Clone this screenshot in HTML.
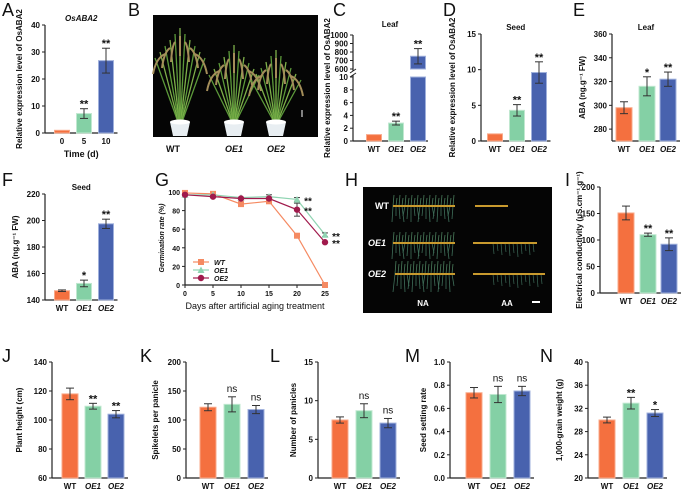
<!DOCTYPE html>
<html><head><meta charset="utf-8"><style>
html,body{margin:0;padding:0;background:#fff}
svg{display:block;font-family:"Liberation Sans",Arial,sans-serif}
</style></head><body>
<svg id="fig" width="685" height="494" viewBox="0 0 685 494" xmlns="http://www.w3.org/2000/svg">
<g id="photoB"></g>
<g id="photoH"></g>
</svg>
<script>
// ---- data arrays ----
const groups = ["WT","OE1","OE2"];
const timeCats = ["0","5","10"];
const aVals = [1, 7.2, 26.8];      const aErr = [0, 1.8, 4.6];    const aSig = ["","**","**"];
const cVals = [1, 2.8, 750];       const cErr = [0, 0.3, 90];     const cSig = ["","**","**"];
const dVals = [1, 4.3, 9.6];       const dErr = [0, 0.8, 1.5];    const dSig = ["","**","**"];
const eVals = [298, 316, 322];     const eErr = [5, 8, 6];        const eSig = ["","*","**"];
const fVals = [147, 152.5, 197.5]; const fErr = [0.6, 2.5, 3.5];  const fSig = ["","*","**"];
const iVals = [151, 110, 92];      const iErr = [13, 3, 12];      const iSig = ["","**","**"];
const jVals = [118, 109.5, 104];   const jErr = [4, 2, 2.5];      const jSig = ["","**","**"];
const kVals = [122, 127, 118];     const kErr = [6, 13, 7];       const kSig = ["","ns","ns"];
const lVals = [7.5, 8.7, 7.1];     const lErr = [0.4, 0.9, 0.6];  const lSig = ["","ns","ns"];
const mVals = [0.735, 0.72, 0.75]; const mErr = [0.045, 0.07, 0.04]; const mSig = ["","ns","ns"];
const nVals = [30, 32.9, 31.2];    const nErr = [0.5, 1.0, 0.6];  const nSig = ["","**","*"];
const gDays = [0,5,10,15,20,25];
const gWT  = [99,98,87,90,53,0];
const gOE1 = [97,97,94,95,92,54];
const gOE2 = [97,95,93,93,81,46];
const gErrWT = [1,1,2,2,1,0];
const gErrOE1 = [1,1,1,2,2,2];
const gErrOE2 = [1,1,1,1,7,1];
const gSigDays = [20,25];
const aTicks=[0,10,20,30,40], dTicks=[0,5,10,15], eTicks=[280,300,320,340,360], fTicks=[140,160,180,200,220];
const iTicks=[0,50,100,150,200], jTicks=[60,80,100,120,140], kTicks=[0,50,100,150,200], lTicks=[0,5,10,15];
const mTicks=[0,0.2,0.4,0.6,0.8,1.0], nTicks=[20,24,28,32,36,40], gYTicks=[0,20,40,60,80,100];
const cLowTicks=[0,2,4,6,8,10], cHighTicks=[600,700,800,900,1000];

const NS="http://www.w3.org/2000/svg";
const svg=document.getElementById('fig');
const COL=["#f4703f","#84d0a5","#4862ae"], EDGE=["#f9a98a","#c0e8d0","#9fb0dc"];
function el(tag,attrs,parent,txt){const e=document.createElementNS(NS,tag);for(const k in attrs)e.setAttribute(k,attrs[k]);if(txt!==undefined)e.textContent=txt;(parent||svg).appendChild(e);return e;}
function txt(x,y,s,size,opts,parent){opts=opts||{};const a={x:x,y:y,'font-size':size,'text-anchor':opts.anchor||'middle',fill:'#111','font-weight':opts.bold===false?'normal':'bold'};if(opts.italic)a['font-style']='italic';if(opts.rot)a.transform='rotate(-90 '+x+' '+y+')';const t=el('text',a,parent,s);return t;}

function panelLetter(L,x,y){const t=txt(x,y,L,18,{anchor:'start',bold:false});

}

function barChart(cfg){
  const g=el('g',{});
  
  
  const ys=v=>cfg.y0+(v-cfg.min)/(cfg.max-cfg.min)*(cfg.y1-cfg.y0);
  const right=cfg.xs[cfg.xs.length-1]+cfg.bw/2+4;
  el('line',{x1:cfg.ax,y1:cfg.y1,x2:cfg.ax,y2:cfg.y0,stroke:'#222','stroke-width':1.2},g);
  el('line',{x1:cfg.ax,y1:cfg.y0,x2:right,y2:cfg.y0,stroke:'#222','stroke-width':1.2},g);
  cfg.ticks.forEach(t=>{const y=ys(t);el('line',{x1:cfg.ax-3,y1:y,x2:cfg.ax,y2:y,stroke:'#222'},g);
    txt(cfg.ax-5,y+3,cfg.fmt?cfg.fmt(t):String(t),8,{anchor:'end'},g);});
  cfg.vals.forEach((v,i)=>{const x=cfg.xs[i],yv=ys(v);
    const r=el('rect',{x:x-cfg.bw/2,y:yv,width:cfg.bw,height:cfg.y0-yv,fill:COL[i],stroke:EDGE[i],'stroke-width':1},g);
    
    
    const e=cfg.err[i];
    if(e>0){const yt=ys(v+e),yb=ys(v-e);
      el('line',{x1:x,y1:yt,x2:x,y2:yb,stroke:'#333'},g);
      el('line',{x1:x-4,y1:yt,x2:x+4,y2:yt,stroke:'#333'},g);
      el('line',{x1:x-4,y1:yb,x2:x+4,y2:yb,stroke:'#333'},g);}
    if(cfg.sig[i]){const s=cfg.sig[i];txt(x,ys(v+e)-4+(s==='ns'?-1:3),s,s==='ns'?10:11,{bold:s!=='ns'},g);}
    txt(x,cfg.y0+11,cfg.cats[i],8,{italic:cfg.italic&&i>0},g);
  });
  if(cfg.title)txt((cfg.ax+right)/2,cfg.y1-4,cfg.title,8,{italic:cfg.titleItalic},g);
  if(cfg.ytitle){const cy=(cfg.y0+cfg.y1)/2;txt(cfg.yx,cy,cfg.ytitle,8,{rot:true},g);}
  if(cfg.xtitle)txt((cfg.ax+right)/2,cfg.y0+24,cfg.xtitle,9,{},g);
}

// A
panelLetter('A',2,16);
barChart({name:'chart-a-time-expression',ax:45,y0:133,y1:25,min:0,max:40,ticks:aTicks,xs:[62,84,106],bw:15,vals:aVals,err:aErr,sig:aSig,cats:timeCats,title:'OsABA2',titleItalic:true,ytitle:'Relative expression level of OsABA2',yx:22,xtitle:'Time (d)'});
// D
panelLetter('D',443,16);
barChart({name:'chart-d-seed-expression',ax:481,y0:141,y1:34,min:0,max:15,ticks:dTicks,xs:[495,517,539],bw:15,vals:dVals,err:dErr,sig:dSig,cats:groups,italic:true,title:'Seed',ytitle:'Relative expression level of OsABA2',yx:455});
// E
panelLetter('E',573,16);
barChart({name:'chart-e-leaf-aba',ax:612,y0:141,y1:34,min:270,max:360,ticks:eTicks,xs:[624,647,668],bw:16,vals:eVals,err:eErr,sig:eSig,cats:groups,italic:true,title:'Leaf',ytitle:'ABA (ng.g⁻¹ FW)',yx:585});
// F
panelLetter('F',2,186);
barChart({name:'chart-f-seed-aba',ax:45,y0:300,y1:194,min:140,max:220,ticks:fTicks,xs:[62,84,106],bw:15,vals:fVals,err:fErr,sig:fSig,cats:groups,italic:true,title:'Seed',ytitle:'ABA (ng.g⁻¹ FW)',yx:18});
// I
panelLetter('I',565,186);
barChart({name:'chart-i-conductivity',ax:600,y0:293,y1:187,min:0,max:200,ticks:iTicks,xs:[626,648,669],bw:16,vals:iVals,err:iErr,sig:iSig,cats:groups,italic:true,ytitle:'Electrical conductivity (μS.cm⁻¹.g⁻¹)',yx:582});
// bottom row
panelLetter('J',2,362); panelLetter('K',140,362); panelLetter('L',270,362); panelLetter('M',405,362); panelLetter('N',540,362);
barChart({name:'chart-j-plant-height',ax:52,y0:478,y1:362,min:60,max:140,ticks:jTicks,xs:[70,93,116],bw:16,vals:jVals,err:jErr,sig:jSig,cats:groups,italic:true,ytitle:'Plant height (cm)',yx:22});
barChart({name:'chart-k-spikelets',ax:186,y0:478,y1:362,min:0,max:200,ticks:kTicks,xs:[208,232,256],bw:16,vals:kVals,err:kErr,sig:kSig,cats:groups,italic:true,ytitle:'Spikelets per panicle',yx:158});
barChart({name:'chart-l-panicles',ax:318,y0:478,y1:362,min:0,max:15,ticks:lTicks,xs:[340,364,388],bw:16,vals:lVals,err:lErr,sig:lSig,cats:groups,italic:true,ytitle:'Number of panicles',yx:296});
barChart({name:'chart-m-seed-setting',ax:450,y0:478,y1:362,min:0,max:1,ticks:mTicks,xs:[474,498,522],bw:16,vals:mVals,err:mErr,sig:mSig,cats:groups,italic:true,fmt:t=>t.toFixed(1),ytitle:'Seed setting rate',yx:426});
barChart({name:'chart-n-grain-weight',ax:588,y0:478,y1:362,min:20,max:40,ticks:nTicks,xs:[607,631,655],bw:16,vals:nVals,err:nErr,sig:nSig,cats:groups,italic:true,ytitle:'1,000-grain weight (g)',yx:562});

// C broken axis
panelLetter('C',333,16);
(function(){
  const g=el('g',{});
  
  
  const ax=353,xs=[374,396,418],bw=15;
  const yl=v=>141-(v/10)*64, yh=v=>69-(v-600)/400*34;
  const yv=v=>v<=10?yl(v):yh(v);
  el('line',{x1:ax,y1:35,x2:ax,y2:71,stroke:'#222','stroke-width':1.2},g);
  el('line',{x1:ax,y1:75,x2:ax,y2:141,stroke:'#222','stroke-width':1.2},g);
  el('line',{x1:ax-3,y1:73,x2:ax+3,y2:69,stroke:'#222'},g);
  el('line',{x1:ax-3,y1:77,x2:ax+3,y2:73,stroke:'#222'},g);
  el('line',{x1:ax,y1:141,x2:428,y2:141,stroke:'#222','stroke-width':1.2},g);
  cLowTicks.forEach(t=>{el('line',{x1:ax-3,y1:yl(t),x2:ax,y2:yl(t),stroke:'#222'},g);txt(ax-5,yl(t)+3,String(t),8,{anchor:'end'},g);});
  cHighTicks.forEach(t=>{el('line',{x1:ax-3,y1:yh(t),x2:ax,y2:yh(t),stroke:'#222'},g);txt(ax-5,yh(t)+3,String(t),8,{anchor:'end'},g);});
  cVals.forEach((v,i)=>{const x=xs[i];
    if(v<=10){const r=el('rect',{x:x-bw/2,y:yl(v),width:bw,height:141-yl(v),fill:COL[i],stroke:EDGE[i]},g);
      
      }
    else{const r=el('rect',{x:x-bw/2,y:yl(10),width:bw,height:141-yl(10),fill:COL[i],stroke:EDGE[i]},g);
      
      
      const r2=el('rect',{x:x-bw/2,y:yh(v),width:bw,height:yh(600)-yh(v),fill:COL[i],stroke:EDGE[i]},g);
      
      }
    const e=cErr[i];
    if(e>0){const yt=yv(v+e),yb=yv(v-e);
      el('line',{x1:x,y1:yt,x2:x,y2:yb,stroke:'#333'},g);
      el('line',{x1:x-4,y1:yt,x2:x+4,y2:yt,stroke:'#333'},g);
      el('line',{x1:x-4,y1:yb,x2:x+4,y2:yb,stroke:'#333'},g);}
    if(cSig[i])txt(x,yv(v+e)-1,cSig[i],11,{},g);
    txt(x,152,groups[i],8,{italic:i>0},g);
  });
  txt(390,27,'Leaf',8,{},g);
  txt(330,88,'Relative expression level of OsABA2',8,{rot:true},g);
})();

// G line chart
panelLetter('G',155,186);
(function(){
  const g=el('g',{});
  
  
  const ax=185,y0=285,xs=d=>ax+d*5.6,ys=v=>y0-v*0.93;
  el('line',{x1:ax,y1:y0,x2:ax,y2:ys(100)-2,stroke:'#222','stroke-width':1.2},g);
  el('line',{x1:ax,y1:y0,x2:xs(25)+2,y2:y0,stroke:'#222','stroke-width':1.2},g);
  gYTicks.forEach(t=>{el('line',{x1:ax-3,y1:ys(t),x2:ax,y2:ys(t),stroke:'#222'},g);txt(ax-5,ys(t)+3,String(t),7,{anchor:'end'},g);});
  gDays.forEach(d=>{el('line',{x1:xs(d),y1:y0,x2:xs(d),y2:y0+3,stroke:'#222'},g);txt(xs(d),y0+11,String(d),7,{},g);});
  txt(255,309,'Days after artificial aging treatment',9,{bold:false},g);
  txt(164,238,'Germination rate (%)',7,{rot:true,italic:true},g);
  const series=[{n:'WT',v:gWT,e:gErrWT,c:'#f58a62',m:'sq'},{n:'OE1',v:gOE1,e:gErrOE1,c:'#8fd4b2',m:'tri'},{n:'OE2',v:gOE2,e:gErrOE2,c:'#a01a4c',m:'circ'}];
  function marker(m,x,y,c,p){
    if(m==='sq')return el('rect',{x:x-3,y:y-3,width:6,height:6,fill:c},p);
    if(m==='tri')return el('polygon',{points:(x)+','+(y-3.5)+' '+(x-3.5)+','+(y+3)+' '+(x+3.5)+','+(y+3),fill:c},p);
    return el('circle',{cx:x,cy:y,r:3.2,fill:c},p);}
  series.forEach((s,si)=>{
    const sg=el('g',{},g);
    
    
    el('polyline',{points:gDays.map((d,i)=>xs(d)+','+ys(s.v[i])).join(' '),fill:'none',stroke:s.c,'stroke-width':1.2},sg);
    gDays.forEach((d,i)=>{const x=xs(d);
      if(s.e[i]>1){el('line',{x1:x,y1:ys(s.v[i]+s.e[i]),x2:x,y2:ys(s.v[i]-s.e[i]),stroke:'#444'},sg);
        el('line',{x1:x-3,y1:ys(s.v[i]+s.e[i]),x2:x+3,y2:ys(s.v[i]+s.e[i]),stroke:'#444'},sg);
        el('line',{x1:x-3,y1:ys(s.v[i]-s.e[i]),x2:x+3,y2:ys(s.v[i]-s.e[i]),stroke:'#444'},sg);}
      const mk=marker(s.m,x,ys(s.v[i]),s.c,sg);
      
      });
    if(si>0)gSigDays.forEach(d=>{const i=gDays.indexOf(d);txt(xs(d)+11,ys(s.v[i])+5,'**',10,{},sg);});
    const ly=262+si*8;
    const lg=el('g',{},g);
    
    
    el('line',{x1:193,y1:ly,x2:209,y2:ly,stroke:s.c,'stroke-width':1.2},lg);
    marker(s.m,201,ly,s.c,lg);
    txt(214,ly+3,s.n,7,{anchor:'start',italic:true},lg);
  });
})();

// Photo B
panelLetter('B',128,16);
(function(){
  const p=document.getElementById('photoB');
  el('rect',{x:153,y:15,width:165,height:122,fill:'#050505'},p);
  [[180,28],[234,45],[276,50]].forEach(([cx,top])=>{
    for(let k=-5;k<=5;k++){el('line',{x1:cx+k*0.4,y1:122,x2:cx+k*5,y2:top+Math.abs(k)*6,stroke:k%2?'#5c9a3a':'#7eb04a','stroke-width':1.3},p);}
    for(let k=-3;k<=3;k++){el('path',{d:'M'+(cx+k*5)+' '+(top+Math.abs(k)*6+8)+' q'+(k*3)+' 4 '+(k*4)+' 20',fill:'none',stroke:'#a48e5a','stroke-width':2},p);}
    el('path',{d:'M'+(cx-10)+' 122 h20 l-3 14 h-14 z',fill:'#e8eef2'},p);
    el('ellipse',{cx:cx,cy:122,rx:10,ry:2.5,fill:'#fff'},p);
  });
  el('line',{x1:302,y1:110,x2:302,y2:117,stroke:'#fff','stroke-width':1},p);
  txt(173,152,'WT',9,{},p); txt(234,152,'OE1',9,{italic:true},p); txt(276,152,'OE2',9,{italic:true},p);
})();

// Photo H
panelLetter('H',345,186);
(function(){
  const p=document.getElementById('photoH');
  el('rect',{x:363,y:187,width:189,height:126,fill:'#050505'},p);
  const rows=[[206,[393,455],[475,508]],[243,[393,455],[473,537]],[274,[395,455],[473,545]]];
  rows.forEach(([y,a,b],ri)=>{
    for(let x=a[0];x<a[1];x+=3){el('line',{x1:x,y1:y,x2:x+((x*7)%5-2),y2:y+10+(x%9),stroke:'#3f6f5a','stroke-width':0.8},p);
      el('line',{x1:x,y1:y,x2:x+1,y2:y-8-(x%6),stroke:'#4b7d5c','stroke-width':0.8},p);}
    if(ri>0)for(let x=b[0]+20;x<b[1];x+=4){el('line',{x1:x,y1:y,x2:x+1,y2:y+8+(x%7),stroke:'#3d6a58','stroke-width':0.7},p);}
    el('line',{x1:a[0],y1:y,x2:a[1],y2:y,stroke:'#c99a2e','stroke-width':2},p);
    el('line',{x1:b[0],y1:y,x2:b[1],y2:y,stroke:'#c99a2e','stroke-width':2},p);
  });
  const lt=[['WT',375,209,false],['OE1',368,246,true],['OE2',368,277,true]];
  lt.forEach(([s,x,y,it])=>{const t=txt(x,y,s,9,{anchor:'start',italic:it},p);t.setAttribute('fill','#fff');});
  let t=txt(423,306,'NA',8,{},p);t.setAttribute('fill','#fff');
  t=txt(507,306,'AA',8,{},p);t.setAttribute('fill','#fff');
  el('rect',{x:532,y:301,width:8,height:2,fill:'#fff'},p);
})();
</script>
</body></html>
